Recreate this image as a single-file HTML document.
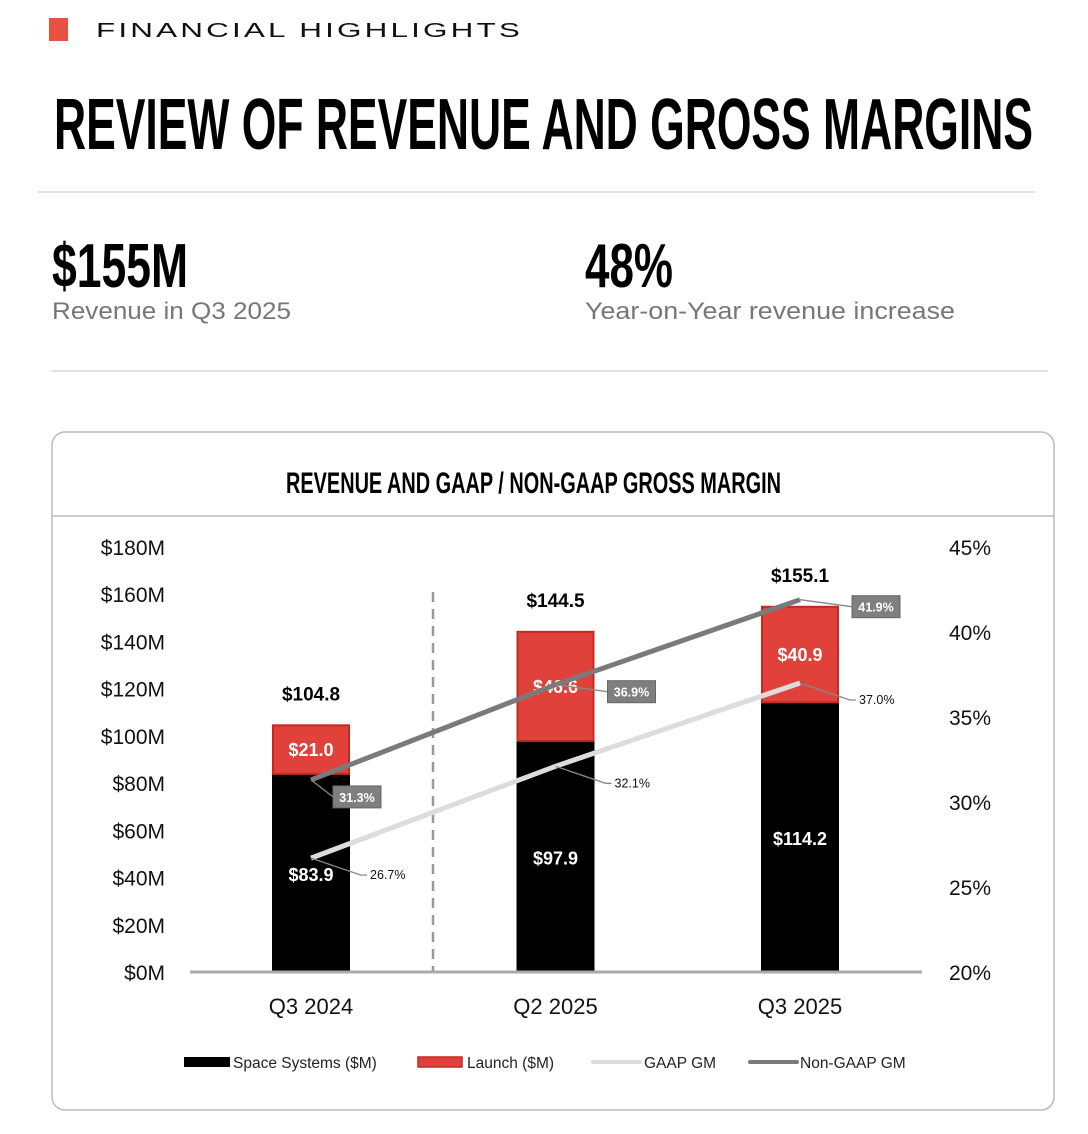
<!DOCTYPE html>
<html><head><meta charset="utf-8"><style>
html,body{margin:0;padding:0;background:#fff;}
svg{display:block;font-family:"Liberation Sans",sans-serif;}
.cond{font-family:"Liberation Sans Narrow","Liberation Sans",sans-serif;font-weight:bold;}
</style></head><body>
<svg id="page" width="1088" height="1134" viewBox="0 0 1088 1134" xmlns="http://www.w3.org/2000/svg">
<rect x="49" y="18" width="19" height="23" fill="#e8503f"/>
<text x="96" y="37" font-size="20" textLength="427" lengthAdjust="spacingAndGlyphs" fill="#111" letter-spacing="2">FINANCIAL HIGHLIGHTS</text>
<text class="cond" x="54" y="149" font-size="72" textLength="979" lengthAdjust="spacingAndGlyphs" fill="#000">REVIEW OF REVENUE AND GROSS MARGINS</text>
<line x1="38" y1="192" x2="1035" y2="192" stroke="#e2e2e2" stroke-width="2"/>
<text class="cond" x="52" y="287" font-size="62" textLength="136" lengthAdjust="spacingAndGlyphs" fill="#000">$155M</text>
<text x="52" y="319" font-size="24" textLength="239" lengthAdjust="spacingAndGlyphs" fill="#777">Revenue in Q3 2025</text>
<text class="cond" x="585" y="287" font-size="62" textLength="88" lengthAdjust="spacingAndGlyphs" fill="#000">48%</text>
<text x="585" y="319" font-size="24" textLength="370" lengthAdjust="spacingAndGlyphs" fill="#777">Year-on-Year revenue increase</text>
<line x1="51" y1="371" x2="1048" y2="371" stroke="#e2e2e2" stroke-width="2"/>
<rect x="52" y="432" width="1002" height="678" rx="13" fill="#fff" stroke="#bbb" stroke-width="1.5"/>
<line x1="52" y1="516" x2="1054" y2="516" stroke="#bbb" stroke-width="1.5"/>
<text class="cond" x="286" y="493" font-size="30" textLength="495" lengthAdjust="spacingAndGlyphs" fill="#000">REVENUE AND GAAP / NON-GAAP GROSS MARGIN</text>
<g id="chart"></g>
</svg>
<script>
const categories=["Q3 2024","Q2 2025","Q3 2025"];
const spaceSystems=[83.9,97.9,114.2];
const launch=[21.0,46.6,40.9];
const totals=["$104.8","$144.5","$155.1"];
const gaapGM=[26.7,32.1,37.0];
const nonGaapGM=[31.3,36.9,41.9];
const leftTicks=[0,20,40,60,80,100,120,140,160,180];
const rightTicks=[20,25,30,35,40,45];

const NS="http://www.w3.org/2000/svg";
const g=document.getElementById('chart');
const y0=972,yTop=547;
const yL=v=>y0-(v/180)*(y0-yTop);
const yR=v=>y0-((v-20)/25)*(y0-yTop);
const xC=i=>311+i*244.5;
const bw=78;
function mk(tag,attrs,parent){const e=document.createElementNS(NS,tag);for(const k in attrs)e.setAttribute(k,attrs[k]);(parent||g).appendChild(e);return e;}

leftTicks.forEach(t=>{
  const e=mk('text',{x:165,y:yL(t)+8,'font-size':21,'text-anchor':'end',fill:'#111'});
  e.textContent='$'+t+'M';
  
  
});
rightTicks.forEach(t=>{
  const e=mk('text',{x:991,y:yR(t)+8,'font-size':21,'text-anchor':'end',fill:'#111'});
  e.textContent=t+'%';
  
  
});
const dl=mk('line',{x1:433,y1:592,x2:433,y2:972,stroke:'#999','stroke-width':2.5,'stroke-dasharray':'10,7'});



categories.forEach((c,i)=>{
  const x=xC(i)-bw/2;
  const b1=mk('rect',{x:x,y:yL(spaceSystems[i]),width:bw,height:y0-yL(spaceSystems[i]),fill:'#000'});
  
  
  const top=spaceSystems[i]+launch[i];
  const b2=mk('rect',{x:x+1,y:yL(top)+1,width:bw-2,height:yL(spaceSystems[i])-yL(top)-1,fill:'#e0413a',stroke:'#c32a22','stroke-width':2});
  
  
  const t=mk('text',{x:xC(i),y:yL(top)-24,'font-size':19,'font-weight':'bold','text-anchor':'middle',fill:'#000'});
  t.textContent=totals[i];
  
  
  const ls=mk('text',{x:xC(i),y:(yL(spaceSystems[i])+y0)/2+8,'font-size':18,'font-weight':'bold','text-anchor':'middle',fill:'#fff'});
  ls.textContent='$'+spaceSystems[i].toFixed(1);
  
  
  const ll=mk('text',{x:xC(i),y:(yL(top)+yL(spaceSystems[i]))/2+7,'font-size':18,'font-weight':'bold','text-anchor':'middle',fill:'#fff'});
  ll.textContent='$'+launch[i].toFixed(1);
  
  
  const xl=mk('text',{x:xC(i),y:1014,'font-size':22,'text-anchor':'middle',fill:'#111'});
  xl.textContent=c;
  
  
});

const ax=mk('line',{x1:190,y1:y0,x2:922,y2:y0,stroke:'#aaa','stroke-width':3});



function series(vals,color,name){
  const pts=vals.map((v,i)=>xC(i)+','+yR(v)).join(' ');
  const p=mk('polyline',{points:pts,fill:'none',stroke:color,'stroke-width':5});
  
  
}
series(gaapGM,'#dcdcdc','gaap-gm-line');
series(nonGaapGM,'#7a7a7a','non-gaap-gm-line');

gaapGM.forEach((v,i)=>{
  const px=xC(i),py=yR(v);
  const lx=px+50,ly=py+17;
  const l=mk('polyline',{points:`${px},${py} ${lx},${ly} ${lx+6},${ly}`,fill:'none',stroke:'#888','stroke-width':1.3});
  
  
  const t=mk('text',{x:lx+9,y:ly+4,'font-size':12.5,fill:'#111'});
  t.textContent=v.toFixed(1)+'%';
  
  
});
nonGaapGM.forEach((v,i)=>{
  const px=xC(i),py=yR(v);
  const bx=px+(i==0?22:52),by=py+(i==0?6:-4);
  const l=mk('polyline',{points:`${px},${py} ${bx},${by+11}`,fill:'none',stroke:'#888','stroke-width':1.3});
  
  
  const r=mk('rect',{x:bx,y:by,width:48,height:22,fill:'#7f7f7f',stroke:'#666','stroke-width':1});
  
  
  const t=mk('text',{x:bx+24,y:by+16,'font-size':12.5,'font-weight':'bold','text-anchor':'middle',fill:'#fff'});
  t.textContent=v.toFixed(1)+'%';
  
  
});

const lg=mk('g',{});


const items=[
 {x:184,w:46,t:'Space Systems ($M)',tx:233,kind:'rect',fill:'#000',stroke:'none'},
 {x:418,w:44,t:'Launch ($M)',tx:467,kind:'rect',fill:'#e0413a',stroke:'#c32a22'},
 {x:593,w:47,t:'GAAP GM',tx:644,kind:'line',stroke:'#dcdcdc'},
 {x:750,w:47,t:'Non-GAAP GM',tx:800,kind:'line',stroke:'#7a7a7a'}];
items.forEach(it=>{
  const e=mk('g',{},lg);
  
  
  if(it.kind=='rect') mk('rect',{x:it.x,y:1057,width:it.w,height:10,fill:it.fill,stroke:it.stroke,'stroke-width':1.5},e);
  else mk('line',{x1:it.x,y1:1062,x2:it.x+it.w,y2:1062,stroke:it.stroke,'stroke-width':4,'stroke-linecap':'round'},e);
  const t=mk('text',{x:it.tx,y:1068,'font-size':15.5,fill:'#222'},e);
  t.textContent=it.t;
});
</script>
</body></html>
